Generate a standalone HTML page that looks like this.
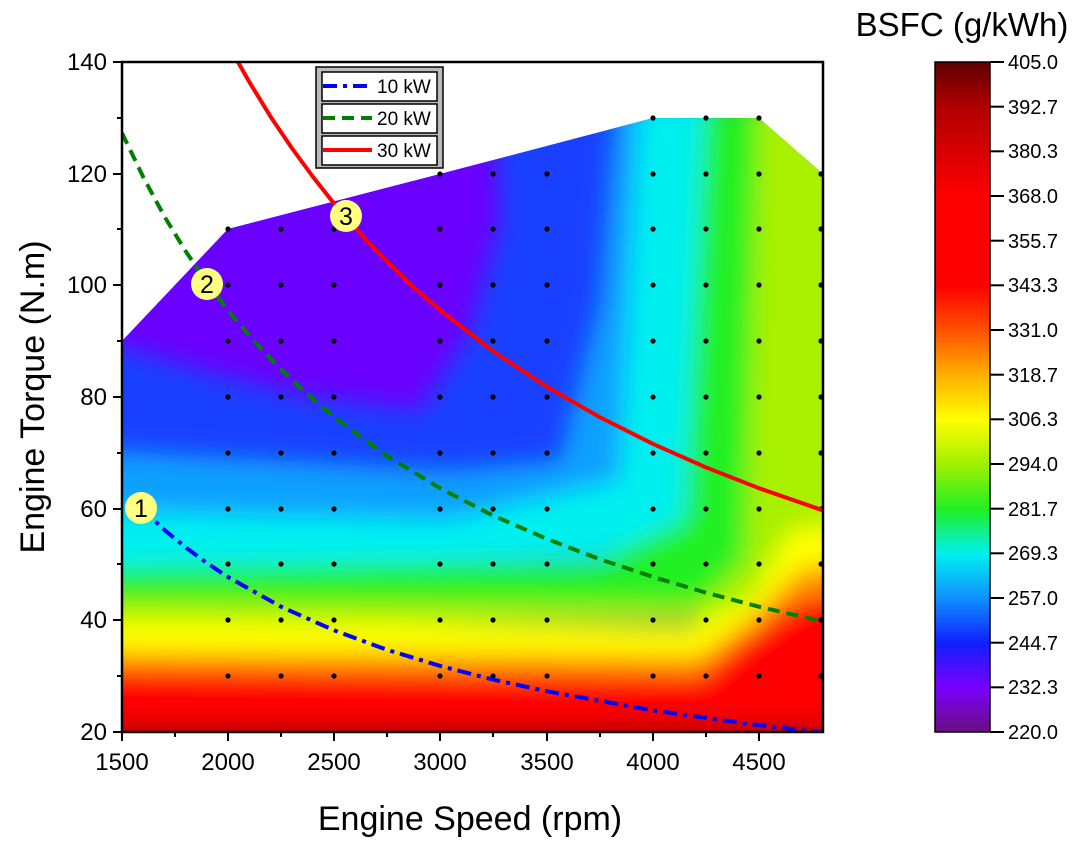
<!DOCTYPE html>
<html><head><meta charset="utf-8"><style>
html,body{margin:0;padding:0;background:#fff;}
svg{display:block;font-family:"Liberation Sans",Arial,sans-serif;}
</style></head><body>
<svg width="1080" height="848" viewBox="0 0 1080 848" xmlns="http://www.w3.org/2000/svg">
<defs>
<clipPath id="env"><polygon points="122,341 228,229 440,174 653,118 759,118 823,174 823,732 122,732"/></clipPath>
<clipPath id="pc"><rect x="122" y="62" width="701" height="670"/></clipPath>
<filter id="bl" x="-20%" y="-20%" width="140%" height="140%"><feGaussianBlur stdDeviation="12"/></filter>
<linearGradient id="cb" x1="0" y1="1" x2="0" y2="0">
<stop offset="0" stop-color="#6a0f80"/>
<stop offset="0.066" stop-color="#7a00ff"/>
<stop offset="0.133" stop-color="#1020ff"/>
<stop offset="0.2" stop-color="#1090ff"/>
<stop offset="0.266" stop-color="#00f0f0"/>
<stop offset="0.333" stop-color="#20f020"/>
<stop offset="0.4" stop-color="#a0f000"/>
<stop offset="0.466" stop-color="#ffff00"/>
<stop offset="0.533" stop-color="#ffb000"/>
<stop offset="0.6" stop-color="#ff5000"/>
<stop offset="0.666" stop-color="#ff0000"/>
<stop offset="0.8" stop-color="#ff0000"/>
<stop offset="0.933" stop-color="#b00000"/>
<stop offset="1" stop-color="#600000"/>
</linearGradient>
<g id="col">
<circle cx="0" cy="229" r="2.6"/><circle cx="0" cy="285" r="2.6"/><circle cx="0" cy="341" r="2.6"/><circle cx="0" cy="397" r="2.6"/><circle cx="0" cy="453" r="2.6"/><circle cx="0" cy="509" r="2.6"/><circle cx="0" cy="564" r="2.6"/><circle cx="0" cy="620" r="2.6"/><circle cx="0" cy="676" r="2.6"/>
</g>
</defs>
<!-- contour -->
<g clip-path="url(#env)">
<rect x="100" y="60" width="760" height="700" fill="#1a40ff"/>
<g filter="url(#bl)">
<polygon points="100,60 490,60 500,220 470,330 420,410 300,395 200,370 100,340" fill="#6a00ff"/>
<polygon points="100,450 450,470 560,460 600,300 615,100 670,100 670,600 100,560" fill="#10a0ff"/>
<polygon points="100,512 450,520 620,480 640,100 705,100 690,550 100,578" fill="#00f0f0"/>
<polygon points="100,568 600,560 685,520 705,100 760,100 760,610 100,608" fill="#20f020"/>
<polygon points="100,600 700,604 745,560 758,100 860,100 860,540 790,560 760,620 100,625" fill="#a8f000"/>
<polygon points="100,620 690,625 750,600 790,530 860,520 860,680 100,658" fill="#ffff00"/>
<polygon points="100,652 700,656 750,620 800,570 860,560 860,690 100,672" fill="#ff9000"/>
<polygon points="100,670 700,676 730,650 770,620 800,600 860,590 860,760 100,760" fill="#ff0000"/>
<polygon points="100,724 860,724 860,760 100,760" fill="#b00000"/>
</g>
</g>
<!-- dots -->
<g fill="#000">
<use href="#col" x="228"/><use href="#col" x="281"/><use href="#col" x="334"/><use href="#col" x="440"/><use href="#col" x="493"/><use href="#col" x="547"/><use href="#col" x="653"/><use href="#col" x="706"/><use href="#col" x="759"/><use href="#col" x="821"/>
<circle cx="440" cy="174" r="2.6"/><circle cx="493" cy="174" r="2.6"/><circle cx="547" cy="174" r="2.6"/><circle cx="653" cy="174" r="2.6"/><circle cx="706" cy="174" r="2.6"/><circle cx="759" cy="174" r="2.6"/><circle cx="821" cy="174" r="2.6"/>
<circle cx="653" cy="118" r="2.6"/><circle cx="706" cy="118" r="2.6"/><circle cx="759" cy="118" r="2.6"/>
</g>
<!-- curves -->
<g clip-path="url(#pc)" fill="none" stroke-linejoin="round">
<polyline stroke="#0000ff" stroke-width="4" stroke-dasharray="14,6,4,6" points="141,508 164.5,530 185.7,547.4 206.9,563 228,577 281,606.7 334,630.3 387,649.8 440,665.9 493,679.6 547,691.3 653,710.4 759,725.2 823,732.6"/>
<polyline stroke="#008000" stroke-width="4" stroke-dasharray="12,7" points="122,133 143.2,177 164.5,216.6 185.7,251.3 206.9,282.5 228,310.5 254.7,341.7 281,369.7 307.8,394.7 334,417.1 387,455.9 440,488.2 493,515.5 547,538.9 600,559.3 653,576.9 706,592.7 759,606.7 823,621.5"/>
<polyline stroke="#ff0000" stroke-width="4" points="238,62 249.4,82.1 270.6,116.7 291.8,148 313.1,177 334.3,203.9 366.1,240.1 387.4,261.9 413.9,287.5 440.5,310.5 493.5,351.5 546.6,386.6 599.7,417.1 652.8,443.8 705.8,467.3 759,488.2 823,510.4"/>
</g>
<!-- markers -->
<g font-size="25" text-anchor="middle" fill="#000">
<circle cx="141" cy="508" r="16" fill="#ffff80"/><text x="141" y="517">1</text>
<circle cx="207" cy="284" r="16" fill="#ffff80"/><text x="207" y="293">2</text>
<circle cx="346" cy="216" r="16" fill="#ffff80"/><text x="346" y="225">3</text>
</g>
<!-- frame -->
<rect x="122" y="62" width="701" height="670" fill="none" stroke="#000" stroke-width="2.5"/>
<g stroke="#000" stroke-width="2">
<line x1="122" y1="732" x2="122" y2="741"/><line x1="175" y1="732" x2="175" y2="737"/><line x1="228" y1="732" x2="228" y2="741"/><line x1="281" y1="732" x2="281" y2="737"/><line x1="334" y1="732" x2="334" y2="741"/><line x1="387" y1="732" x2="387" y2="737"/><line x1="440" y1="732" x2="440" y2="741"/><line x1="493" y1="732" x2="493" y2="737"/><line x1="547" y1="732" x2="547" y2="741"/><line x1="600" y1="732" x2="600" y2="737"/><line x1="653" y1="732" x2="653" y2="741"/><line x1="706" y1="732" x2="706" y2="737"/><line x1="759" y1="732" x2="759" y2="741"/>
<line x1="113" y1="62" x2="122" y2="62"/><line x1="117" y1="118" x2="122" y2="118"/><line x1="113" y1="174" x2="122" y2="174"/><line x1="117" y1="229" x2="122" y2="229"/><line x1="113" y1="285" x2="122" y2="285"/><line x1="117" y1="341" x2="122" y2="341"/><line x1="113" y1="397" x2="122" y2="397"/><line x1="117" y1="453" x2="122" y2="453"/><line x1="113" y1="509" x2="122" y2="509"/><line x1="117" y1="564" x2="122" y2="564"/><line x1="113" y1="620" x2="122" y2="620"/><line x1="117" y1="676" x2="122" y2="676"/><line x1="113" y1="732" x2="122" y2="732"/>
</g>
<g font-size="24" fill="#000" text-anchor="middle">
<text x="122" y="770">1500</text><text x="228" y="770">2000</text><text x="334" y="770">2500</text><text x="440" y="770">3000</text><text x="547" y="770">3500</text><text x="653" y="770">4000</text><text x="759" y="770">4500</text>
</g>
<g font-size="24" fill="#000" text-anchor="end">
<text x="107" y="70">140</text><text x="107" y="182">120</text><text x="107" y="293">100</text><text x="107" y="405">80</text><text x="107" y="517">60</text><text x="107" y="628">40</text><text x="107" y="740">20</text>
</g>
<text x="470" y="830" font-size="34" text-anchor="middle">Engine Speed (rpm)</text>
<text transform="translate(44,397) rotate(-90)" font-size="34" text-anchor="middle">Engine Torque (N.m)</text>
<!-- legend -->
<rect x="316" y="67" width="127" height="101" fill="#bbb" stroke="#000" stroke-width="1.5"/>
<rect x="322" y="72" width="115" height="29" fill="#fff" stroke="#000" stroke-width="1.5"/>
<rect x="322" y="104" width="115" height="29" fill="#fff" stroke="#000" stroke-width="1.5"/>
<rect x="322" y="136" width="115" height="29" fill="#fff" stroke="#000" stroke-width="1.5"/>
<line x1="323" y1="86" x2="372" y2="86" stroke="#0000ff" stroke-width="4" stroke-dasharray="14,6,4,6"/>
<line x1="323" y1="118" x2="372" y2="118" stroke="#008000" stroke-width="4" stroke-dasharray="12,7"/>
<line x1="323" y1="150" x2="372" y2="150" stroke="#ff0000" stroke-width="4"/>
<g font-size="19" fill="#000"><text x="377" y="93">10 kW</text><text x="377" y="125">20 kW</text><text x="377" y="157">30 kW</text></g>
<!-- colorbar -->
<text x="962" y="36" font-size="33" text-anchor="middle">BSFC (g/kWh)</text>
<rect x="935" y="62" width="55" height="670" fill="url(#cb)" stroke="#000" stroke-width="1.5"/>
<g stroke="#000" stroke-width="2">
<line x1="990" y1="62" x2="1004" y2="62"/><line x1="990" y1="106.7" x2="1004" y2="106.7"/><line x1="990" y1="151.3" x2="1004" y2="151.3"/><line x1="990" y1="196" x2="1004" y2="196"/><line x1="990" y1="240.7" x2="1004" y2="240.7"/><line x1="990" y1="285.3" x2="1004" y2="285.3"/><line x1="990" y1="330" x2="1004" y2="330"/><line x1="990" y1="374.7" x2="1004" y2="374.7"/><line x1="990" y1="419.3" x2="1004" y2="419.3"/><line x1="990" y1="464" x2="1004" y2="464"/><line x1="990" y1="508.7" x2="1004" y2="508.7"/><line x1="990" y1="553.3" x2="1004" y2="553.3"/><line x1="990" y1="598" x2="1004" y2="598"/><line x1="990" y1="642.7" x2="1004" y2="642.7"/><line x1="990" y1="687.3" x2="1004" y2="687.3"/><line x1="990" y1="732" x2="1004" y2="732"/>
</g>
<g font-size="20" fill="#000">
<text x="1008" y="69">405.0</text><text x="1008" y="114">392.7</text><text x="1008" y="158">380.3</text><text x="1008" y="203">368.0</text><text x="1008" y="248">355.7</text><text x="1008" y="292">343.3</text><text x="1008" y="337">331.0</text><text x="1008" y="382">318.7</text><text x="1008" y="426">306.3</text><text x="1008" y="471">294.0</text><text x="1008" y="516">281.7</text><text x="1008" y="560">269.3</text><text x="1008" y="605">257.0</text><text x="1008" y="650">244.7</text><text x="1008" y="694">232.3</text><text x="1008" y="739">220.0</text>
</g>
</svg>
</body></html>
